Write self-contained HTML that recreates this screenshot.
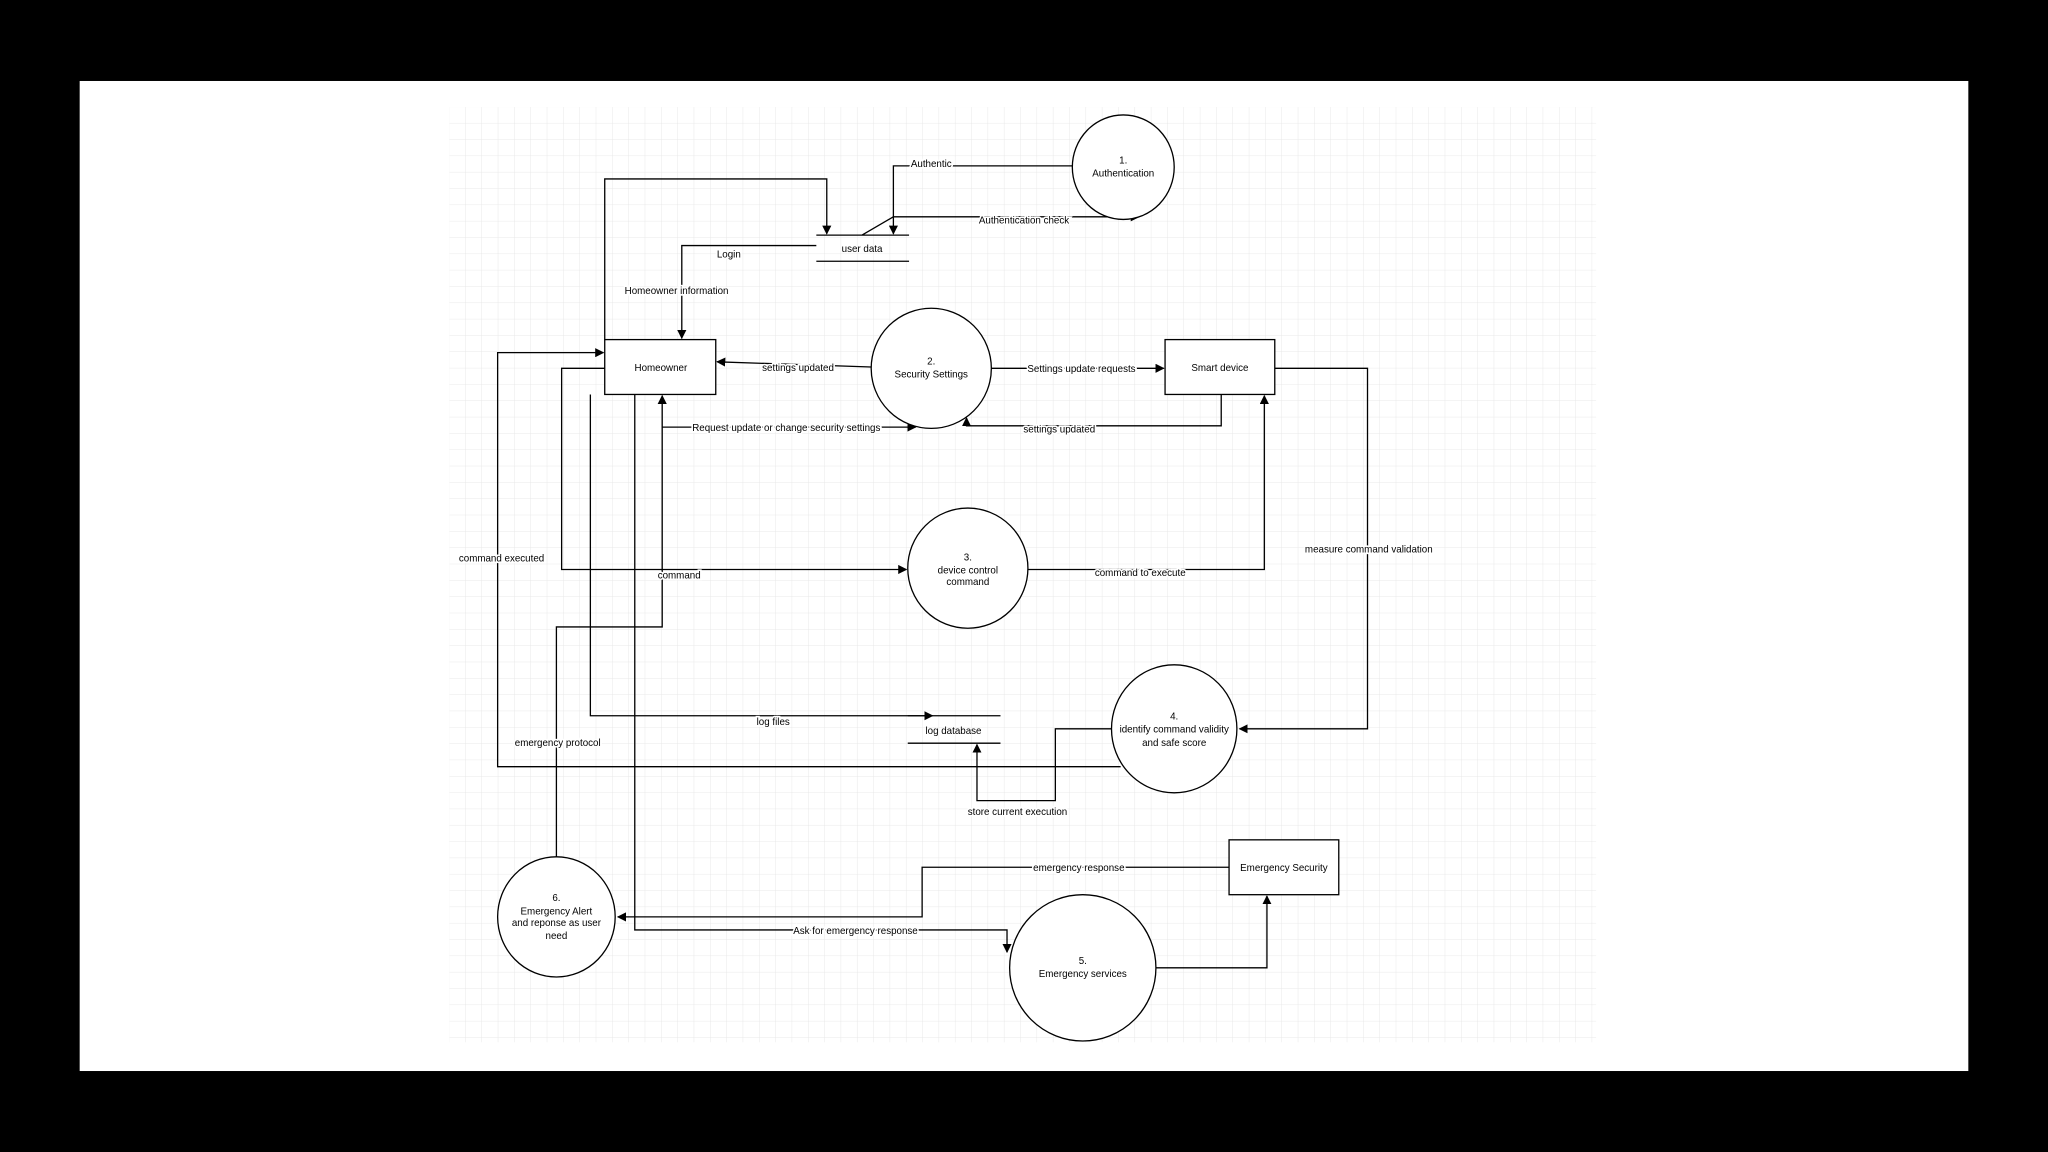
<!DOCTYPE html>
<html><head><meta charset="utf-8"><style>html,body{margin:0;padding:0;background:#000;overflow:hidden}svg{display:block}</style></head>
<body>
<svg width="2048" height="1152" viewBox="0 0 1568 882" preserveAspectRatio="none" xmlns="http://www.w3.org/2000/svg" font-family="Liberation Sans, sans-serif" font-size="7.5">
<defs>
<pattern id="g" x="344" y="82" width="12.5" height="12.5" patternUnits="userSpaceOnUse">
<path d="M12.5 0V12.5H0" fill="none" stroke="#e4e4e4" stroke-width="0.6"/>
</pattern>
<marker id="a" viewBox="0 0 10 10" refX="9" refY="5" markerWidth="7" markerHeight="7" orient="auto" markerUnits="userSpaceOnUse"><path d="M0 0L10 5L0 10z" fill="#000"/></marker>
</defs>
<rect x="0" y="0" width="1568" height="882" fill="#000"/>
<rect x="61" y="62" width="1446" height="758" fill="#fff"/>
<rect x="344" y="82" width="878" height="716" fill="url(#g)"/>
<g fill="none" stroke="#000" stroke-width="1">
<!-- connectors -->
<polyline points="463,260 463,137 633,137 633,179" marker-end="url(#a)"/>
<polyline points="821,127 684,127 684,179" marker-end="url(#a)"/>
<polyline points="660,180 684,166 872,166" marker-end="url(#a)"/>
<polyline points="625,188 522,188 522,259" marker-end="url(#a)"/>
<polyline points="667,281 549,277" marker-end="url(#a)"/>
<polyline points="759,282 891,282" marker-end="url(#a)"/>
<polyline points="935,302 935,326 740,326 740,320" marker-end="url(#a)"/>
<polyline points="426,656 426,480 507,480 507,303" marker-end="url(#a)"/>
<polyline points="507,327 701,327" marker-end="url(#a)"/>
<polyline points="463,282 430,282 430,436 694,436" marker-end="url(#a)"/>
<polyline points="858,587 381,587 381,270 462,270" marker-end="url(#a)"/>
<polyline points="787,436 968,436 968,303" marker-end="url(#a)"/>
<polyline points="976,282 1047,282 1047,558 949,558" marker-end="url(#a)"/>
<polyline points="452,302 452,548 714,548" marker-end="url(#a)"/>
<polyline points="851,558 808,558 808,613 748,613 748,570" marker-end="url(#a)"/>
<polyline points="486,302 486,712 771,712 771,729" marker-end="url(#a)"/>
<polyline points="941,664 706,664 706,702 473,702" marker-end="url(#a)"/>
<polyline points="885,741 970,741 970,686" marker-end="url(#a)"/>
<!-- nodes -->
<ellipse cx="860" cy="128" rx="39" ry="40" fill="#fff"/>
<ellipse cx="713" cy="282" rx="46" ry="46" fill="#fff"/>
<ellipse cx="741" cy="435" rx="46" ry="46" fill="#fff"/>
<ellipse cx="899" cy="558" rx="48" ry="49" fill="#fff"/>
<ellipse cx="829" cy="741" rx="56" ry="56" fill="#fff"/>
<ellipse cx="426" cy="702" rx="45" ry="46" fill="#fff"/>
<rect x="463" y="260" width="85" height="42" fill="#fff"/>
<rect x="892" y="260" width="84" height="42" fill="#fff"/>
<rect x="941" y="643" width="84" height="42" fill="#fff"/>
<line x1="625" y1="180" x2="696" y2="180"/><line x1="625" y1="200" x2="696" y2="200"/>
<line x1="695" y1="548" x2="766" y2="548"/><line x1="695" y1="569" x2="766" y2="569"/>
</g>
<g text-anchor="middle" fill="#000">
<text x="860" y="125">1.</text><text x="860" y="135">Authentication</text>
<text x="660" y="193">user data</text>
<text x="506" y="284">Homeowner</text>
<text x="713" y="279">2.</text><text x="713" y="289">Security Settings</text>
<text x="934" y="284">Smart device</text>
<text x="741" y="429">3.</text><text x="741" y="439">device control</text><text x="741" y="448">command</text>
<text x="730" y="562">log database</text>
<text x="899" y="551">4.</text><text x="899" y="561">identify command validity</text><text x="899" y="571">and safe score</text>
<text x="983" y="667">Emergency Security</text>
<text x="829" y="738">5.</text><text x="829" y="748">Emergency services</text>
<text x="426" y="690">6.</text><text x="426" y="700">Emergency Alert</text><text x="426" y="709">and reponse as user</text><text x="426" y="719">need</text>
</g>
<g text-anchor="middle" fill="#000" style="paint-order:stroke" stroke="#fff" stroke-width="2.5">
<text x="713" y="128">Authentic</text>
<text x="784" y="171">Authentication check</text>
<text x="558" y="197">Login</text>
<text x="518" y="225">Homeowner information</text>
<text x="611" y="284">settings updated</text>
<text x="828" y="285">Settings update requests</text>
<text x="811" y="331">settings updated</text>
<text x="602" y="330">Request update or change security settings</text>
<text x="520" y="443">command</text>
<text x="384" y="430">command executed</text>
<text x="873" y="441">command to execute</text>
<text x="1048" y="423">measure command validation</text>
<text x="592" y="555">log files</text>
<text x="427" y="571">emergency protocol</text>
<text x="779" y="624">store current execution</text>
<text x="655" y="715">Ask for emergency response</text>
<text x="826" y="667">emergency response</text>
</g>
</svg>
</body></html>
